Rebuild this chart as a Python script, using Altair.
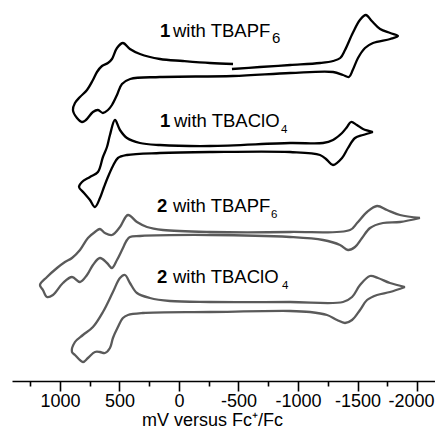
import altair as alt
import pandas as pd

# ---- data: potential (mV vs Fc+/Fc) and current (arbitrary units, stacked) ----
t1_mv = [-445, -680, -935, -1185, -1295, -1355, -1395, -1460, -1520, -1570, -1620, -1690,
         -1775, -1840, -1775, -1630, -1563, -1504, -1460, -1428, -1378, -1295, -935, -454,
         160, 410, 479, 521, 563, 597, 639, 681, 723, 782, 815, 857, 891, 874, 832, 773,
         723, 689, 647, 597, 563, 521, 471, 412, 328, 160, -33, -260, -454]
t1_i = [312, 314, 316, 318, 320, 323, 331, 348, 361, 366, 360, 352,
        348, 345, 342, 338, 333, 323, 311, 304, 306, 309, 308, 305,
        304, 302, 297, 286, 276, 271, 268, 271, 269, 261, 259, 263, 271, 278, 284, 291,
        301, 309, 315, 318, 322, 333, 338, 332, 327, 322, 320, 318, 317]

t2_mv = [-1630, -1546, -1479, -1420, -1370, -1294, -1244, -1185, -933, -260, 160, 437,
         513, 555, 597, 630, 664, 706, 748, 798, 840, 815, 748, 681, 639, 605, 580, 538,
         496, 437, 328, 160, -260, -933, -1210, -1294, -1370, -1412, -1445, -1495, -1546, -1630]
t2_i = [249, 246, 243, 233, 223, 216, 221, 226, 229, 229, 228, 226,
        223, 215, 204, 194, 183, 174, 181, 188, 194, 199, 204, 209, 224, 234, 246, 261,
        251, 243, 238, 236, 235, 238, 238, 241, 248, 254, 259, 256, 252, 249]

t3_mv = [-2025, -1857, -1714, -1605, -1538, -1479, -1420, -1353, -1210, -933, -260, 328,
         412, 437, 479, 521, 563, 605, 664, 723, 773, 832, 899, 975, 1059, 1109, 1143, 1168,
         1109, 1025, 958, 899, 832, 765, 706, 664, 622, 563, 496, 429, 353, 269, 135, -260,
         -933, -1437, -1496, -1580, -1664, -1748, -1857, -2025]
t3_i = [163, 159, 158, 153, 143, 134, 131, 136, 141, 144, 146, 145,
        144, 141, 131, 121, 113, 118, 123, 116, 106, 99, 104, 98, 86, 84, 91, 96,
        104, 113, 119, 123, 131, 143, 149, 152, 148, 146, 154, 166, 159, 154, 151, 149,
        149, 151, 158, 169, 175, 171, 166, 163]

t4_mv = [-1899, -1773, -1664, -1580, -1521, -1454, -1395, -1328, -1244, -1101, -933, -260,
         303, 429, 471, 513, 555, 580, 622, 664, 706, 765, 807, 874, 899, 874, 807, 723,
         639, 555, 496, 454, 412, 353, 244, 76, -260, -933, -1378, -1454, -1521, -1605,
         -1672, -1773, -1899]
t4_i = [94, 89, 86, 81, 71, 61, 58, 61, 66, 69, 70, 69,
        68, 66, 63, 54, 43, 33, 28, 29, 29, 23, 19, 26, 29, 39, 46, 54,
        69, 89, 103, 106, 98, 88, 83, 80, 79, 79, 79, 84, 96, 105,
        103, 98, 94]

trace_names = ["1 with TBAPF6", "1 with TBAClO4", "2 with TBAPF6", "2 with TBAClO4"]
trace_colors = ["#000000", "#000000", "#5a5a5a", "#5a5a5a"]

tick_values = [1250, 1000, 750, 500, 250, 0, -250, -500, -750, -1000, -1250, -1500, -1750, -2000]

rows = []
for name, xs, ys in zip(trace_names, [t1_mv, t2_mv, t3_mv, t4_mv], [t1_i, t2_i, t3_i, t4_i]):
    for k, (xv, yv) in enumerate(zip(xs, ys)):
        rows.append({"trace": name, "mv": xv, "cur": yv, "k": k})
df = pd.DataFrame(rows)

FONT = "Liberation Sans, Arial, Helvetica, sans-serif"

x_axis = alt.Axis(
    values=tick_values,
    labelExpr="datum.value % 500 === 0 ? '' + datum.value : ''",
    tickSize={"condition": {"test": "datum.value % 500 === 0", "value": 10}, "value": 5},
    labelOffset={"condition": {"test": "datum.value === -2000", "value": -6}, "value": 0},
    title="mV versus Fc\u207a/Fc",
    titleFont=FONT, labelFont=FONT,
    titleFontSize=18, labelFontSize=18,
    titleFontWeight="normal",
    titleColor="black", labelColor="black",
    domainColor="black", tickColor="black",
    domainWidth=1.6, tickWidth=1.6,
    labelPadding=1,
    titleBaseline="alphabetic", titleAlign="center", titleX=200, titleY=44,
    grid=False, labelFlush=False, labelOverlap=False,
)

lines = alt.Chart(df).mark_line(strokeWidth=2.3, interpolate="catmull-rom").encode(
    x=alt.X("mv:Q", scale=alt.Scale(domain=[1403, -2151], nice=False, zero=False), axis=x_axis),
    y=alt.Y("cur:Q", scale=alt.Scale(domain=[0, 373], nice=False, zero=False), axis=None),
    color=alt.Color("trace:N", scale=alt.Scale(domain=trace_names, range=trace_colors), legend=None),
    order="k:Q",
    detail="trace:N",
)

label_df = pd.DataFrame({"a": [0]})


def txt(s, x, y, size=18.5, weight="normal"):
    return alt.Chart(label_df).mark_text(
        text=s, align="left", baseline="alphabetic", font=FONT, fontSize=size,
        fontWeight=weight, color="black"
    ).encode(x=alt.value(x - 12), y=alt.value(y - 8))


labels = [
    txt("1", 160, 37, weight="bold"), txt("with TBAPF", 173, 37), txt("6", 272, 43, size=15),
    txt("1", 160, 127, weight="bold"), txt("with TBAClO", 174, 127), txt("4", 281, 133, size=11.5),
    txt("2", 157, 212, weight="bold"), txt("with TBAPF", 173, 212), txt("6", 271, 218, size=11.5),
    txt("2", 157, 283, weight="bold"), txt("with TBAClO", 173, 283), txt("4", 282, 289, size=11.5),
]

chart = alt.layer(lines, *labels).properties(
    width=423, height=373,
    padding={"left": 4, "top": 0, "right": 0, "bottom": 47},
    autosize=alt.AutoSizeParams(type="none"),
).configure_view(stroke=None)

chart.save("out.html", embed_options={"renderer": "svg", "actions": False})
